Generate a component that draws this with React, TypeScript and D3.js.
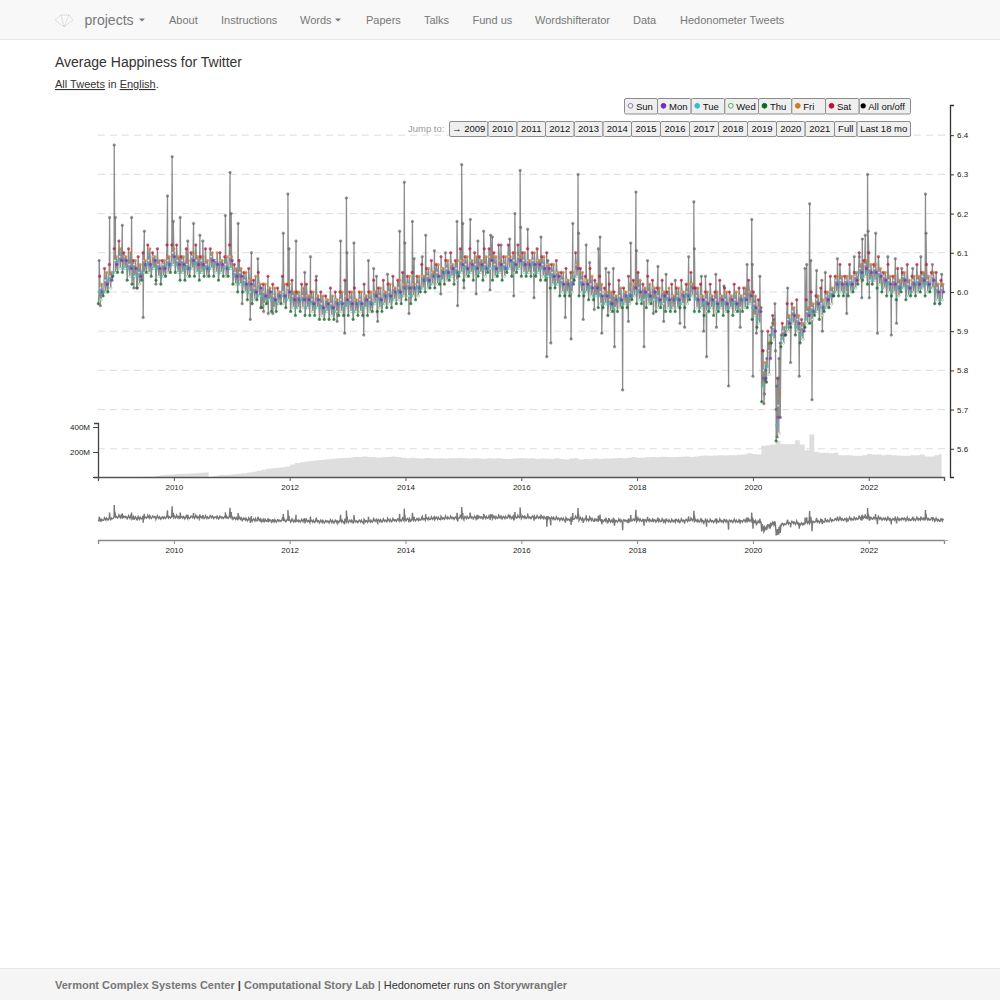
import { useEffect, useRef } from "react";
import * as d3 from "d3";

// happiness per weekday, one reading per month from Sep 2008, in hundredths
const SAT = [
  604,606,607,611,
  613,610,611,608,609,610,612,610,611,608,612,612,
  612,609,611,610,612,609,611,611,608,610,609,612,
  607,608,605,606,603,605,602,604,602,601,604,602,
  603,600,602,602,600,603,600,599,601,600,600,603,
  600,601,600,602,600,603,601,603,602,604,603,605,
  604,605,604,607,606,608,607,609,608,610,608,611,
  609,611,610,609,611,611,610,612,609,612,610,612,
  610,611,610,611,609,610,607,608,605,606,605,610,
  606,604,606,603,604,601,602,600,603,601,604,603,
  605,602,604,603,601,603,600,602,601,603,602,605,
  601,602,600,602,600,603,601,600,602,601,601,603,
  600,598,585,590,594,578,592,597,597,598,593,598,
  600,599,601,600,604,604,607,604,607,605,610,608,
  610,607,609,605,607,604,606,605,607,604,607,605,
  607,605,605,603,
];
const FRI = [
  602,605,605,609,
  611,609,610,608,607,608,611,609,608,608,609,611,
  609,609,608,610,609,609,608,610,610,608,609,609,
  606,606,605,603,604,602,602,601,601,600,602,602,
  600,600,601,599,600,599,599,598,599,598,600,599,
  600,598,600,599,600,600,601,600,602,601,603,602,
  604,602,604,604,606,605,607,606,608,607,608,608,
  609,608,609,608,609,609,609,608,609,609,610,609,
  610,608,610,608,609,607,607,605,605,603,605,607,
  605,603,604,602,602,600,600,599,601,600,602,602,
  603,601,602,601,601,600,601,599,601,600,602,602,
  601,599,600,599,600,599,600,599,600,599,601,600,
  599,596,582,587,592,574,591,594,596,594,592,596,
  597,599,598,600,601,604,604,604,604,605,607,608,
  607,607,606,605,604,604,603,605,603,604,604,605,
  604,605,602,602,
];
const SUN = [
  601,603,604,608,
  609,609,607,607,605,608,608,609,607,607,608,610,
  608,608,607,609,608,608,607,609,608,608,607,609,
  605,605,603,603,601,602,600,601,599,600,600,601,
  599,599,599,599,598,599,597,598,597,598,598,599,
  598,598,598,599,598,600,599,600,600,601,601,602,
  602,602,602,604,604,605,605,606,606,607,606,608,
  607,608,607,608,607,609,607,608,607,609,608,609,
  608,608,608,608,607,607,605,605,603,603,603,607,
  603,603,602,602,600,600,598,599,599,600,600,602,
  601,601,600,601,599,600,599,599,599,600,600,602,
  599,599,598,599,598,599,598,599,598,599,599,600,
  597,596,580,585,591,571,590,593,595,593,591,595,
  596,598,597,599,600,603,603,603,603,604,606,607,
  606,606,605,604,603,603,602,604,602,603,603,604,
  603,604,601,601,
];
const MON = [
  600,602,603,607,
  608,608,606,606,604,607,607,608,606,606,607,609,
  607,607,606,608,607,607,606,608,607,607,606,608,
  604,604,602,602,600,601,599,600,598,599,599,600,
  598,598,598,598,597,598,596,597,596,597,597,598,
  597,597,597,598,597,599,598,599,599,600,600,601,
  601,601,601,603,603,604,604,605,605,606,605,607,
  606,607,606,607,606,608,606,607,606,608,607,608,
  607,607,607,607,606,606,604,604,602,602,602,606,
  602,602,601,601,599,599,597,598,598,599,599,601,
  600,600,599,600,598,599,598,598,598,599,599,601,
  598,598,597,598,597,598,597,598,597,598,598,599,
  596,595,578,583,590,568,589,592,594,592,590,594,
  595,597,596,598,599,602,602,602,602,603,605,606,
  605,605,604,603,602,602,601,603,601,602,602,603,
  602,603,600,600,
];
const TUE = [
  600,600,603,605,
  608,606,606,604,604,605,607,606,606,604,607,607,
  607,605,606,606,607,605,606,606,607,605,606,606,
  604,602,602,600,600,599,599,598,598,597,599,598,
  598,596,598,596,597,596,596,595,596,595,597,596,
  597,595,597,596,597,597,598,597,599,598,600,599,
  601,599,601,601,603,602,604,603,605,604,605,605,
  606,605,606,605,606,606,606,605,606,606,607,606,
  607,605,607,605,606,604,604,602,602,600,602,604,
  602,600,601,599,599,597,597,596,598,597,599,599,
  600,598,599,598,598,597,598,596,598,597,599,599,
  598,596,597,596,597,596,597,596,597,596,598,597,
  596,593,576,581,589,566,588,591,593,591,589,593,
  595,595,596,596,599,600,602,600,602,601,605,604,
  605,603,604,601,602,600,601,601,601,600,602,601,
  602,601,600,598,
];
const WED = [
  598,600,601,605,
  606,606,604,604,602,605,605,606,604,604,605,607,
  605,605,604,606,605,605,604,606,605,605,604,606,
  602,602,600,600,598,599,597,598,596,597,597,598,
  596,596,596,596,595,596,594,595,594,595,595,596,
  595,595,595,596,595,597,596,597,597,598,598,599,
  599,599,599,601,601,602,602,603,603,604,603,605,
  604,605,604,605,604,606,604,605,604,606,605,606,
  605,605,605,605,604,604,602,602,600,600,600,604,
  600,600,599,599,597,597,595,596,596,597,597,599,
  598,598,597,598,596,597,596,596,596,597,597,599,
  596,596,595,596,595,596,595,596,595,596,596,597,
  594,592,574,579,588,564,587,590,592,590,588,592,
  593,595,594,596,597,600,600,600,600,601,603,604,
  603,603,602,601,600,600,599,601,599,600,600,601,
  600,601,598,598,
];
const THU = [
  597,599,600,604,
  605,605,603,602,601,603,605,604,603,602,604,605,
  605,603,603,604,604,603,604,604,604,603,604,604,
  602,600,600,598,597,598,596,597,595,595,597,596,
  595,594,595,594,594,594,593,593,593,593,594,594,
  594,593,594,594,594,595,595,595,596,596,597,597,
  598,597,598,600,600,601,601,602,602,603,602,604,
  603,604,603,604,603,605,603,604,603,605,604,605,
  604,604,604,604,603,603,601,601,599,599,599,603,
  599,599,598,598,596,596,594,595,595,596,596,598,
  597,597,596,597,595,596,595,595,595,596,596,598,
  595,595,594,595,594,595,594,595,594,595,595,596,
  593,591,572,577,587,562,586,589,591,589,587,591,
  592,594,593,595,596,599,599,599,599,600,602,603,
  602,602,601,600,599,599,598,600,598,599,599,600,
  599,600,597,597,
];

// single days that leave the weekly band
const SPIKE_YEARS = [
  2008.71,2008.73,2008.89,2008.97,2008.99,2009.11,2009.27,2009.31,2009.37,2009.47,2009.49,2009.69,2009.89,2009.97,2009.99,
  2010.11,2010.24,2010.34,2010.45,2010.50,2010.89,2010.97,2010.99,2011.11,2011.18,2011.32,2011.34,2011.45,2011.50,2011.55,
  2011.63,2011.71,2011.89,2011.97,2011.99,2012.11,2012.26,2012.36,2012.46,2012.82,2012.88,2012.95,2012.98,2012.99,2013.11,
  2013.28,2013.36,2013.45,2013.50,2013.52,2013.69,2013.90,2013.98,2013.99,2014.06,2014.12,2014.15,2014.29,2014.35,2014.50,
  2014.61,2014.69,2014.89,2014.90,2014.97,2014.99,2015.01,2015.12,2015.22,2015.25,2015.35,2015.46,2015.47,2015.50,2015.65,
  2015.80,2015.87,2015.89,2015.98,2015.99,2016.11,2016.22,2016.34,2016.44,2016.46,2016.51,2016.76,2016.86,2016.89,2016.98,
  2016.99,2017.07,2017.12,2017.18,2017.26,2017.33,2017.36,2017.39,2017.46,2017.51,2017.59,2017.61,2017.75,2017.85,2017.89,
  2017.98,2017.99,2018.12,2018.18,2018.28,2018.36,2018.46,2018.50,2018.66,2018.74,2018.82,2018.89,2018.98,2018.99,2019.11,
  2019.15,2019.18,2019.20,2019.36,2019.37,2019.50,2019.58,2019.78,2019.90,2019.98,2019.99,2020.00,2020.06,2020.12,2020.19,
  2020.21,2020.38,2020.41,2020.42,2020.60,2020.65,2020.80,2020.90,2020.93,2020.98,2021.00,2021.02,2021.10,2021.19,2021.20,
  2021.25,2021.46,2021.62,2021.75,2021.84,2021.88,2021.89,2021.94,2021.98,2021.99,2022.01,2022.12,2022.15,2022.33,2022.39,
  2022.46,2022.48,2022.57,2022.76,2022.90,2022.98,2022.99,2023.10,2023.23,2023.26,
  2020.14,2020.16,2020.17,2020.18,2020.20,2020.22,2020.24,2020.26,2020.28,2020.30,
  2020.32,2020.34,2020.36,2020.39,2020.40,2020.43,2020.44,2020.45,2020.47,2020.49,
];
const SPIKE_VALUES = [
  6.08,5.965,6.19,6.375,6.19,6.17,6.19,6.01,6.01,5.935,6.155,6.02,6.245,6.345,6.18,
  6.19,6.13,6.175,6.145,6.13,6.195,6.305,6.2,6.175,5.97,5.93,6.10,6.085,5.96,5.95,
  5.945,5.945,6.15,6.25,6.11,6.13,6.05,6.09,6.04,5.925,6.13,5.895,6.24,6.1,6.125,
  5.89,6.08,6.06,6.04,5.925,6.045,6.155,6.28,6.125,5.945,6.18,6.085,6.09,6.145,6.105,
  5.995,6.10,6.18,5.965,6.325,6.175,6.01,6.185,5.995,6.13,6.155,6.005,6.145,6.14,6.12,
  6.135,5.99,6.2,6.31,6.165,6.16,5.985,6.14,5.835,6.08,5.87,5.935,5.88,6.175,6.30,
  6.15,5.93,6.12,6.075,5.955,6.11,6.14,5.895,6.06,6.05,6.06,5.86,5.75,5.925,6.125,
  6.255,6.105,5.86,6.08,5.945,6.065,5.925,6.045,6.03,5.92,5.91,6.09,6.23,6.11,6.04,
  5.90,6.04,5.835,6.045,5.91,6.015,5.76,5.91,6.07,6.185,6.07,5.785,5.895,6.04,5.715,
  5.775,5.97,5.76,5.63,6.01,5.82,5.785,6.06,6.07,6.225,6.08,5.725,6.055,6.03,5.90,
  6.05,6.085,5.945,6.09,6.09,5.985,6.135,6.145,6.30,6.155,5.985,6.15,5.895,6.09,5.89,
  6.085,5.92,6.06,6.06,6.09,6.25,6.15,6.07,5.97,6.045,
  5.96,5.90,5.85,5.78,5.74,5.80,5.83,5.85,5.87,5.89,
  5.91,5.92,5.93,5.85,5.70,5.68,5.78,5.83,5.87,5.89,
];

// tweets per day, millions, monthly from Sep 2008
const VOLUME = [
  0,0,0,0,
  0,0,1,1,1,2,3,3,8,14,18,20,
  24,26,27,28,30,34,36,0,8,16,16,18,
  22,26,30,36,42,50,58,66,70,74,78,84,
  100,112,118,124,128,132,136,140,144,148,150,152,
  155,160,160,165,160,160,155,158,160,165,160,155,
  150,155,150,148,152,150,148,150,148,150,150,152,
  150,148,150,148,146,150,148,150,146,145,148,150,
  150,148,150,145,148,146,145,150,145,140,148,150,
  140,145,142,148,145,148,148,150,152,150,155,160,
  155,155,158,160,158,162,160,158,160,162,165,160,
  165,170,172,170,172,175,172,175,175,178,180,190,
  185,180,250,255,260,290,265,262,265,295,260,215,
  340,200,195,195,190,195,175,175,175,170,170,175,
  185,180,180,175,178,175,172,170,170,175,175,180,
  165,165,175,185,
];

const WEEKDAYS = ["Sun", "Mon", "Tue", "Wed", "Thu", "Fri", "Sat"];
const WEEKDAY_SERIES = [SUN, MON, TUE, WED, THU, FRI, SAT];
const WEEKDAY_SLOT = [3, 6, 1, 4, 0, 5, 2];
const WEEKDAY_FILL = ["#fff", "#6a2fc8", "#2cc4c8", "#fff", "#0a6a1e", "#d07a20", "#c0103a"];
const WEEKDAY_STROKE = ["#8f7ca8", "#6a2fc8", "#2cc4c8", "#5aa85a", "#0a6a1e", "#d07a20", "#c0103a"];
const LEGEND_EDGES = [624, 657, 690.7, 724.3, 758, 791.3, 825, 858.7, 910];
const JUMP_LABELS = ["→ 2009", "2010", "2011", "2012", "2013", "2014", "2015", "2016", "2017", "2018", "2019", "2020", "2021", "Full", "Last 18 mo"];
const JUMP_EDGES = [449, 487.5, 516.5, 545, 573.7, 602.5, 631, 660, 689, 718, 747, 776, 804.7, 834, 856.5, 910];
const HAPPY_TICKS = [6.4, 6.3, 6.2, 6.1, 6.0, 5.9, 5.8, 5.7, 5.6];
const YEAR_TICKS = [2010, 2012, 2014, 2016, 2018, 2020, 2022];
const VOLUME_TICKS = [400, 200, 0];
const NAV_ITEMS: [string, number][] = [
  ["About", 169], ["Instructions", 221], ["Words", 300], ["Papers", 366], ["Talks", 424],
  ["Fund us", 472.5], ["Wordshifterator", 535], ["Data", 633], ["Hedonometer Tweets", 680],
];

const FONT = '"Liberation Sans", Arial, sans-serif';

function draw(el: SVGSVGElement) {
  const svg = d3.select(el);
  svg.selectAll("*").remove();
  svg.attr("font-family", FONT);

  const yearOf = d3.scaleLinear().domain([0, 176]).range([2008.69, 2023.3]);
  const x = d3.scaleLinear().domain([2008.69, 2023.3]).range([98, 944]);
  const y = d3.scaleLinear().domain([5.528, 6.477]).range([477, 105]);
  const yMini = d3.scaleLinear().domain([5.63, 6.375]).range([535, 505]);
  const yVol = d3.scaleLinear().domain([0, 432]).range([477, 423]);

  // navbar
  svg.append("rect").attr("width", 1000).attr("height", 39.5).attr("fill", "#f8f8f8");
  svg.append("line").attr("x1", 0).attr("x2", 1000).attr("y1", 39.5).attr("y2", 39.5).attr("stroke", "#e7e7e7");
  svg.append("path")
    .attr("d", "M55 20L61 15H69L73 20L64 27ZM61 15L64 27M69 15L64 27")
    .attr("fill", "none").attr("stroke", "#c4c4c4").attr("stroke-width", 0.8).attr("stroke-dasharray", "1.5,1");
  svg.append("text").attr("x", 84.5).attr("y", 24.5).attr("font-size", 14).attr("fill", "#777").text("projects");
  NAV_ITEMS.forEach(([label, left]) => {
    svg.append("text").attr("x", left).attr("y", 23.5).attr("font-size", 11).attr("fill", "#777").text(label);
  });
  [139, 335].forEach((c) => {
    svg.append("path").attr("d", `M${c} 18.5h6l-3 3z`).attr("fill", "#777");
  });

  // heading
  svg.append("text").attr("x", 55).attr("y", 66.5).attr("font-size", 14).attr("fill", "#333").text("Average Happiness for Twitter");
  const sub = svg.append("text").attr("x", 55).attr("y", 88).attr("font-size", 11).attr("fill", "#333");
  sub.append("tspan").attr("text-decoration", "underline").text("All Tweets");
  sub.append("tspan").text(" in ");
  sub.append("tspan").attr("text-decoration", "underline").text("English");
  sub.append("tspan").text(".");

  // grid
  svg.append("g").selectAll("line").data(HAPPY_TICKS).join("line")
    .attr("x1", 98).attr("x2", 950)
    .attr("y1", (d) => y(d)).attr("y2", (d) => y(d))
    .attr("stroke", "#ddd").attr("stroke-dasharray", "7,5");

  // volume
  const area = d3.area<number>()
    .x((_, i) => x(yearOf(i + 0.5)))
    .y0(yVol(0))
    .y1((d) => yVol(d))
    .curve(d3.curveStep);
  svg.append("path").datum(VOLUME).attr("d", area).attr("fill", "#dedede");

  // every reading in time order: weekday readings plus the single days
  type Pt = { year: number; value: number; day: number };
  const points: Pt[] = [];
  WEEKDAY_SERIES.forEach((series, day) => {
    series.forEach((v, m) => {
      points.push({ year: yearOf(m + (WEEKDAY_SLOT[day] + 0.5) / 7), value: v / 100, day });
    });
  });
  SPIKE_YEARS.forEach((year, i) => {
    points.push({ year, value: SPIKE_VALUES[i], day: -1 });
  });
  points.sort((a, b) => a.year - b.year);

  const line = d3.line<Pt>().x((d) => x(d.year)).y((d) => y(d.value));
  svg.append("path").datum(points).attr("d", line)
    .attr("fill", "none").attr("stroke", "#808080").attr("stroke-width", 1.3).attr("opacity", 0.9);

  svg.append("g").selectAll("circle").data(points).join("circle")
    .attr("cx", (d) => x(d.year))
    .attr("cy", (d) => y(d.value))
    .attr("r", 1.25)
    .attr("fill", (d) => (d.day < 0 ? "#666" : WEEKDAY_FILL[d.day]))
    .attr("stroke", (d) => (d.day < 0 ? "#666" : WEEKDAY_STROKE[d.day]))
    .attr("stroke-width", 0.6)
    .attr("opacity", 0.75);

  // overview line
  const miniLine = d3.line<Pt>().x((d) => x(d.year)).y((d) => yMini(d.value));
  svg.append("path").datum(points).attr("d", miniLine)
    .attr("fill", "none").attr("stroke", "#777").attr("stroke-width", 1.4);

  // axes
  const styleAxis = (g: d3.Selection<SVGGElement, unknown, null, undefined>, color: string) => {
    g.attr("font-family", FONT).attr("font-size", 8);
    g.selectAll("path").attr("stroke", color).attr("stroke-width", 1.3);
    g.selectAll("line").attr("stroke", color);
    g.selectAll("text").attr("fill", "#222");
  };

  const right = svg.append("g").attr("transform", "translate(950,0)")
    .call(d3.axisRight(y).tickValues(HAPPY_TICKS).tickFormat(d3.format(".1f")).tickSize(4).tickSizeOuter(4));
  styleAxis(right, "#333");

  const left = svg.append("g").attr("transform", "translate(98,0)")
    .call(d3.axisLeft(yVol).tickValues(VOLUME_TICKS).tickFormat((d) => (+d === 0 ? "" : `${d}M`)).tickSize(5).tickSizeOuter(4));
  styleAxis(left, "#444");

  const bottom = svg.append("g").attr("transform", "translate(0,477)")
    .call(d3.axisBottom(x).tickValues(YEAR_TICKS).tickFormat(d3.format("d")).tickSize(4).tickSizeOuter(4));
  styleAxis(bottom, "#555");

  const bottomMini = svg.append("g").attr("transform", "translate(0,540)")
    .call(d3.axisBottom(x).tickValues(YEAR_TICKS).tickFormat(d3.format("d")).tickSize(4).tickSizeOuter(4));
  styleAxis(bottomMini, "#888");
  svg.append("line").attr("x1", 944).attr("x2", 948).attr("y1", 540.5).attr("y2", 540.5).attr("stroke", "#aaa");

  // buttons
  const button = (x0: number, x1: number, top: number, h: number) =>
    svg.append("rect").attr("x", x0 + 0.5).attr("y", top + 0.5).attr("width", x1 - x0).attr("height", h)
      .attr("rx", 1.5).attr("fill", "#efefef").attr("stroke", "#8c8c8c");

  WEEKDAYS.forEach((name, i) => {
    button(LEGEND_EDGES[i], LEGEND_EDGES[i + 1], 98, 15.5);
    svg.append("circle").attr("cx", LEGEND_EDGES[i] + 6.5).attr("cy", 105.8).attr("r", 2.4)
      .attr("fill", WEEKDAY_FILL[i] === "#fff" ? "#efefef" : WEEKDAY_FILL[i]).attr("stroke", WEEKDAY_STROKE[i]);
    svg.append("text").attr("x", LEGEND_EDGES[i] + 12).attr("y", 109.5).attr("font-size", 9.5).attr("fill", "#111").text(name);
  });
  button(LEGEND_EDGES[7], LEGEND_EDGES[8], 98, 15.5);
  svg.append("circle").attr("cx", LEGEND_EDGES[7] + 4.5).attr("cy", 105.8).attr("r", 2.6).attr("fill", "#000");
  svg.append("text").attr("x", LEGEND_EDGES[7] + 9.5).attr("y", 109.5).attr("font-size", 9.5).attr("fill", "#111").text("All on/off");

  svg.append("text").attr("x", 408).attr("y", 132).attr("font-size", 9.5).attr("fill", "#999").text("Jump to:");
  JUMP_LABELS.forEach((label, i) => {
    button(JUMP_EDGES[i], JUMP_EDGES[i + 1], 121, 15);
    svg.append("text").attr("x", (JUMP_EDGES[i] + JUMP_EDGES[i + 1]) / 2 + 0.5).attr("y", 132.3)
      .attr("text-anchor", "middle").attr("font-size", 9.5).attr("fill", "#111").text(label);
  });

  // footer
  svg.append("rect").attr("y", 969).attr("width", 1000).attr("height", 31).attr("fill", "#f5f5f5");
  svg.append("line").attr("x1", 0).attr("x2", 1000).attr("y1", 968.5).attr("y2", 968.5).attr("stroke", "#e7e7e7");
  const foot = svg.append("text").attr("x", 55).attr("y", 989).attr("font-size", 11).attr("fill", "#333");
  foot.append("tspan").attr("font-weight", "bold").attr("fill", "#777").text("Vermont Complex Systems Center");
  foot.append("tspan").attr("font-weight", "bold").text(" | ");
  foot.append("tspan").attr("font-weight", "bold").attr("fill", "#777").text("Computational Story Lab");
  foot.append("tspan").text(" | Hedonometer runs on ");
  foot.append("tspan").attr("font-weight", "bold").attr("fill", "#777").text("Storywrangler");
}

export default function App() {
  const ref = useRef<SVGSVGElement>(null);
  useEffect(() => {
    if (ref.current) draw(ref.current);
  }, []);
  return (
    <svg
      ref={ref}
      width={1000}
      height={1000}
      style={{ position: "absolute", top: 0, left: 0, background: "#fff" }}
    />
  );
}
